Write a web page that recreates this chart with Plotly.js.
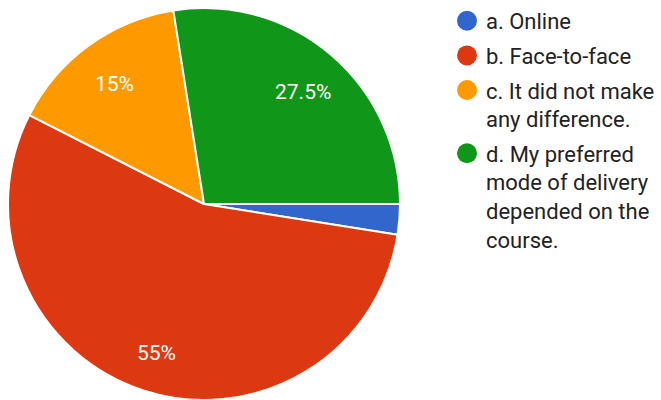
<!DOCTYPE html>
<html>
<head>
<meta charset="utf-8">
<script src="https://cdn.plot.ly/plotly-3.0.1.min.js"></script>
<style>
html,body{margin:0;padding:0;background:#fff;}
#chart{width:661px;height:400px;}
#chart .legend .legendpoints{transform:translate(-4px,0px) scale(1.25);}
</style>
</head>
<body>
<div id="chart"></div>
<script>
const categories = ["a. Online", "b. Face-to-face", "c. It did not make<br>any difference.", "d. My preferred<br>mode of delivery<br>depended on the<br>course."];
const values = [2.5, 55, 15, 27.5];
const sliceLabels = ["", "55%", "15%", "27.5%"];
const colors = ["#3366cc", "#dc3912", "#ff9900", "#109618"];

const W = 661, H = 400;
const domX = [0.0121, 0.6051];
const domY = [0, 0.98];
const startAngle = 90;   // degrees clockwise from 12 o'clock
const labelRadius = 0.78;

const pie = {
  type: "pie",
  values: values,
  labels: categories,
  textinfo: "none",
  marker: {colors: colors, line: {color: "#ffffff", width: 2}},
  sort: false,
  direction: "clockwise",
  rotation: startAngle,
  showlegend: false,
  hoverinfo: "none",
  domain: {x: domX, y: domY}
};

const legendTraces = categories.map((c, i) => ({
  type: "scatter",
  mode: "markers",
  x: [0],
  y: [0],
  name: c,
  legendgroup: "g" + i,
  marker: {color: colors[i], size: 16},
  showlegend: true,
  hoverinfo: "none"
}));

// label positions derived from slice values (mid-angle of each slice)
const total = values.reduce((a, b) => a + b, 0);
const rPx = Math.min((domX[1] - domX[0]) * W, (domY[1] - domY[0]) * H) / 2;
const cx = (domX[0] + domX[1]) / 2, cy = (domY[0] + domY[1]) / 2;
let cum = 0;
const annotations = [];
values.forEach((v, i) => {
  const mid = (startAngle + (cum + v / 2) / total * 360) * Math.PI / 180;
  cum += v;
  if (!sliceLabels[i]) return;
  annotations.push({
    xref: "paper", yref: "paper",
    x: cx + labelRadius * rPx * Math.sin(mid) / W,
    y: cy + labelRadius * rPx * Math.cos(mid) / H,
    yshift: -4,
    text: sliceLabels[i], showarrow: false,
    xanchor: "center", yanchor: "middle",
    font: {family: "Roboto, sans-serif", size: 21, color: "#ffffff"}
  });
});

const layout = {
  width: W,
  height: H,
  margin: {l: 0, r: 0, t: 0, b: 0},
  paper_bgcolor: "#ffffff",
  plot_bgcolor: "rgba(0,0,0,0)",
  xaxis: {visible: false, range: [10, 11], fixedrange: true},
  yaxis: {visible: false, range: [10, 11], fixedrange: true},
  showlegend: true,
  annotations: annotations,
  legend: {
    x: 446 / W, y: 1.0, xanchor: "left", yanchor: "top",
    font: {family: "Roboto, sans-serif", size: 22, color: "#222222"},
    valign: "top",
    itemclick: false, itemdoubleclick: false,
    tracegroupgap: 3,
    bgcolor: "rgba(0,0,0,0)"
  }
};

Plotly.newPlot("chart", [pie].concat(legendTraces), layout, {staticPlot: true, displayModeBar: false});
</script>
</body>
</html>
